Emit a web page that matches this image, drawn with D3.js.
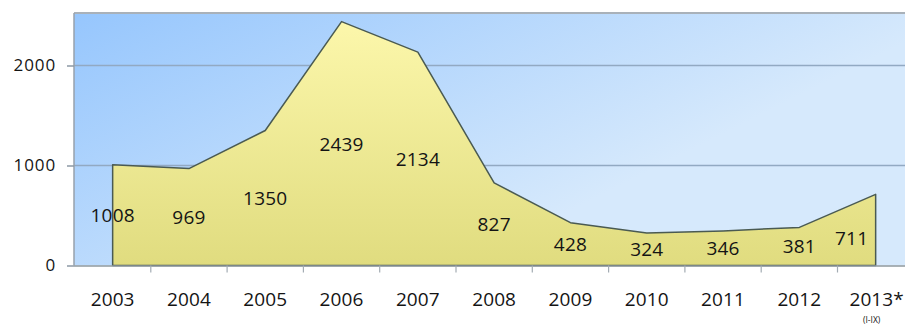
<!DOCTYPE html>
<html><head><meta charset="utf-8">
<script src="https://cdn.jsdelivr.net/npm/d3@7"></script>
<style>
html,body{margin:0;padding:0;background:#fff;}
svg{display:block;}
text{font-family:"Open Sans",sans-serif;fill:#141414;}
</style></head>
<body>
<svg id="c" width="905" height="324"></svg>
<script>
const years = ["2003","2004","2005","2006","2007","2008","2009","2010","2011","2012","2013*"];
const values = [1008,969,1350,2439,2134,827,428,324,346,381,711];
const yTicks = [0,1000,2000];
const subLabel = "(I-IX)";

(function(){
const svg = d3.select("#c");
const pLeft = 74, pTop = 13, pBottom = 265.5, step = 76.3;
const x = d3.scaleBand().domain(years).range([pLeft + 0.5, pLeft + 0.5 + step*years.length]).padding(0);
const y = d3.scaleLinear().domain([0,2520]).range([pBottom, pTop + 0.5]);
const cx = d => x(d) + x.bandwidth()/2;

const defs = svg.append("defs");
const bg = defs.append("linearGradient").attr("id","bg").attr("gradientUnits","userSpaceOnUse")
  .attr("x1",pLeft).attr("y1",pTop).attr("x2",253).attr("y2",370);
bg.append("stop").attr("offset",0).attr("stop-color","#96c6fd");
bg.append("stop").attr("offset",1).attr("stop-color","#d6e9fc");
const ag = defs.append("linearGradient").attr("id","ag").attr("x1",0).attr("y1",0).attr("x2",0).attr("y2",1);
ag.append("stop").attr("offset",0).attr("stop-color","#fcf7ab");
ag.append("stop").attr("offset",1).attr("stop-color","#e0dc7f");

svg.append("rect").attr("x",pLeft).attr("y",pTop).attr("width",905-pLeft).attr("height",pBottom-pTop).attr("fill","url(#bg)");
svg.append("line").attr("x1",pLeft).attr("x2",905).attr("y1",pTop).attr("y2",pTop).attr("stroke","#a9b1b9").attr("stroke-width",2);

svg.append("g").selectAll("line").data(yTicks.filter(d=>d>0)).join("line")
  .attr("x1",pLeft).attr("x2",905).attr("y1",d=>y(d)).attr("y2",d=>y(d))
  .attr("stroke","#92a9c2").attr("stroke-width",1.5);

const pts = years.map((yr,i)=>({yr, v: values[i]}));
const area = d3.area().x(d=>cx(d.yr)).y0(y(0)).y1(d=>y(d.v)).curve(d3.curveLinear);
svg.append("path").datum(pts).attr("d",area).attr("fill","url(#ag)")
  .attr("stroke","#4a5a52").attr("stroke-width",1.5).attr("stroke-linejoin","round");

const yAxis = d3.axisLeft(y).tickValues(yTicks).tickSize(7).tickPadding(11).tickFormat(d3.format("d"));
const gy = svg.append("g").attr("transform",`translate(${pLeft},0)`).call(yAxis);
gy.select(".domain").attr("stroke","#97a1ab").attr("stroke-width",1.5).attr("d",`M0,${pTop}V${pBottom}`);
gy.selectAll(".tick line").attr("stroke","#8d99a5").attr("stroke-width",1.5);
gy.selectAll(".tick text").style("font-size","17px").style("letter-spacing","0.9px").attr("fill","#141414").style("font-family","'Open Sans',sans-serif");

svg.append("line").attr("x1",pLeft).attr("x2",905).attr("y1",pBottom+0.5).attr("y2",pBottom+0.5).attr("stroke","#8e989e").attr("stroke-width",1.5);
const bounds = years.map(d=>x(d)).slice(1);
svg.append("g").selectAll("line").data(bounds).join("line")
  .attr("x1",d=>d).attr("x2",d=>d).attr("y1",pBottom).attr("y2",pBottom+7)
  .attr("stroke","#a3acb3").attr("stroke-width",1.2);

svg.append("g").selectAll("text").data(years).join("text")
  .attr("x",d=>cx(d) + (d.endsWith("*")?1:0)).attr("y",306)
  .attr("text-anchor","middle").style("font-size","19px").style("letter-spacing","0.1px").text(d=>d);
svg.append("text").attr("x",cx(years[years.length-1])-4).attr("y",323)
  .attr("text-anchor","middle").style("font-size","8.5px").attr("fill","#333").text(subLabel);

svg.append("g").selectAll("text").data(pts).join("text")
  .attr("x",(d,i)=>cx(d.yr) + (i===pts.length-1 ? -24 : 0))
  .attr("y",(d,i)=>y(d.v/2) + 7 + (i===pts.length-1 ? 8 : 0))
  .attr("text-anchor","middle").style("font-size","19px").style("letter-spacing","0.2px")
  .text(d=>d.v);
})();
</script>
</body></html>
